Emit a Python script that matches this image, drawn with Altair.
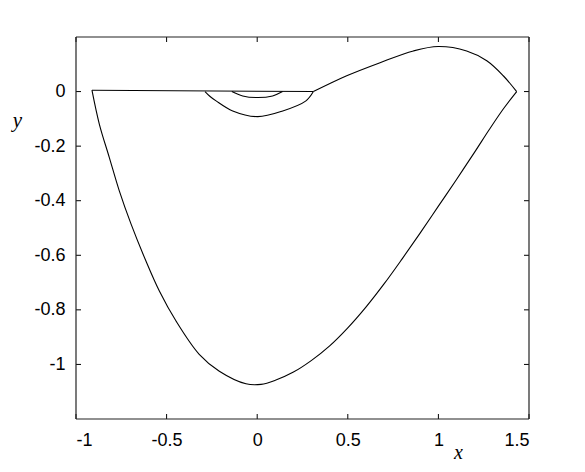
import altair as alt
import pandas as pd

# trajectory pieces (phase plane)
seg_small_x = [0.14, 0.085, 0.003, -0.08, -0.14]
seg_small_y = [0.0, -0.016, -0.022, -0.016, 0.0]

seg_mid_x = [-0.288, -0.26, -0.227, -0.135, 0.003, 0.141, 0.269, 0.31]
seg_mid_y = [0.0, -0.018, -0.034, -0.071, -0.092, -0.071, -0.034, 0.0]

seg_up_x = [0.31, 0.494, 0.678, 0.862, 0.999, 1.156, 1.267, 1.358, 1.432]
seg_up_y = [0.0, 0.058, 0.106, 0.149, 0.165, 0.149, 0.113, 0.058, 0.0]

seg_low_x = [1.432, 1.36, 1.28, 1.2, 1.1, 1.0, 0.9, 0.8, 0.7, 0.6, 0.5, 0.4,
             0.3, 0.2, 0.1, 0.021, -0.062, -0.209, -0.32, -0.448, -0.54,
             -0.614, -0.696, -0.761, -0.816, -0.871, -0.912]
seg_low_y = [0.0, -0.062, -0.14, -0.222, -0.322, -0.42, -0.518, -0.613, -0.705,
             -0.79, -0.866, -0.932, -0.985, -1.028, -1.058, -1.073, -1.071,
             -1.025, -0.963, -0.841, -0.731, -0.621, -0.486, -0.364, -0.242,
             -0.12, 0.005]

seg_flat_x = [-0.912, 0.31]
seg_flat_y = [0.005, 0.0]

x_ticks = [-1, -0.5, 0, 0.5, 1, 1.5]
y_ticks = [-1, -0.8, -0.6, -0.4, -0.2, 0]

W, H = 453, 382
TL = 5

rows = []
for name, sx, sy in [("small", seg_small_x, seg_small_y),
                     ("mid", seg_mid_x, seg_mid_y),
                     ("up", seg_up_x, seg_up_y),
                     ("low", seg_low_x, seg_low_y),
                     ("flat", seg_flat_x, seg_flat_y)]:
    for i, (a, b) in enumerate(zip(sx, sy)):
        rows.append({"seg": name, "i": i, "x": a, "y": b})
df = pd.DataFrame(rows)
dxt = pd.DataFrame({"x": x_ticks})
dyt = pd.DataFrame({"y": y_ticks})
dummy = pd.DataFrame({"k": [0]})

xscale = alt.Scale(domain=[-1, 1.5], nice=False, zero=False)
yscale = alt.Scale(domain=[-1.2, 0.2], nice=False, zero=False)

label_font = "Liberation Sans"

line = alt.Chart(df).mark_line(color="black", strokeWidth=1.1,
                               interpolate="catmull-rom").encode(
    x=alt.X("x:Q", scale=xscale, axis=alt.Axis(
        values=x_ticks, ticks=False, domain=False, grid=False,
        labelExpr="toString(datum.value)", labelFont=label_font,
        labelFontSize=18, labelColor="black", labelPadding=12,
        title="x", titleFont="Liberation Serif", titleFontStyle="italic",
        titleFontWeight="normal", titleFontSize=20, titleColor="black",
        titleX=382, titleY=39, titleAlign="center", titleBaseline="alphabetic")),
    y=alt.Y("y:Q", scale=yscale, axis=alt.Axis(
        values=y_ticks, ticks=False, domain=False, grid=False,
        labelExpr="toString(datum.value)", labelFont=label_font,
        labelFontSize=18, labelColor="black", labelPadding=11,
        title="y", titleFont="Liberation Serif", titleFontStyle="italic",
        titleFontWeight="normal", titleFontSize=21, titleColor="black",
        titleAngle=0, titleX=-59, titleY=83, titleAlign="center",
        titleBaseline="middle")),
    detail="seg:N",
    order="i:Q",
)

tick_style = dict(color="black", strokeWidth=1)
xt_bottom = alt.Chart(dxt).mark_rule(**tick_style).encode(
    x=alt.X("x:Q", scale=xscale), y=alt.value(H), y2=alt.value(H - TL))
xt_top = alt.Chart(dxt).mark_rule(**tick_style).encode(
    x=alt.X("x:Q", scale=xscale), y=alt.value(0), y2=alt.value(TL))
yt_left = alt.Chart(dyt).mark_rule(**tick_style).encode(
    y=alt.Y("y:Q", scale=yscale), x=alt.value(0), x2=alt.value(TL))
yt_right = alt.Chart(dyt).mark_rule(**tick_style).encode(
    y=alt.Y("y:Q", scale=yscale), x=alt.value(W), x2=alt.value(W - TL))

box_style = dict(color="#222222", strokeWidth=1.2)
b_top = alt.Chart(dummy).mark_rule(**box_style).encode(
    x=alt.value(0), x2=alt.value(W), y=alt.value(0))
b_bot = alt.Chart(dummy).mark_rule(**box_style).encode(
    x=alt.value(0), x2=alt.value(W), y=alt.value(H))
b_left = alt.Chart(dummy).mark_rule(**box_style).encode(
    y=alt.value(0), y2=alt.value(H), x=alt.value(0))
b_right = alt.Chart(dummy).mark_rule(**box_style).encode(
    y=alt.value(0), y2=alt.value(H), x=alt.value(W))

chart = alt.layer(line, xt_bottom, xt_top, yt_left, yt_right,
                  b_top, b_bot, b_left, b_right).properties(
    width=W, height=H,
    autosize=alt.AutoSizeParams(type="none"),
    padding={"left": 68, "top": 29, "right": 30, "bottom": 45},
).configure_view(stroke=None)

chart.save("out.html", embed_options={"renderer": "svg", "actions": False})
